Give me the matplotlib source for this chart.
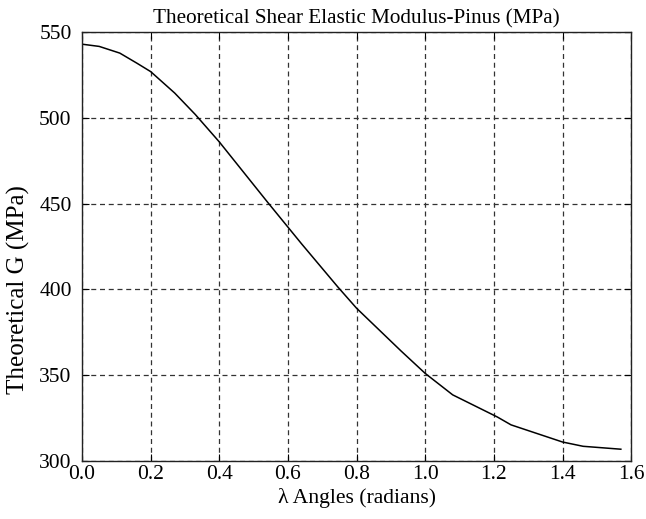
import matplotlib
matplotlib.use("Agg")
import matplotlib.pyplot as plt

# Values
angles = [0.00, 0.05, 0.11, 0.16, 0.20, 0.27, 0.33, 0.40, 0.48, 0.54, 0.64,
          0.745, 0.80, 0.93, 1.00, 1.08, 1.21, 1.25, 1.40, 1.46, 1.57]
shear_g = [543.0, 541.7, 537.8, 531.9, 527.0, 514.5, 502.0, 486.0, 466.0, 451.0, 426.5,
           401.5, 389.0, 364.0, 351.0, 338.5, 325.6, 321.0, 311.0, 308.5, 306.8]
x_ticks = [0.0, 0.2, 0.4, 0.6, 0.8, 1.0, 1.2, 1.4, 1.6]
y_ticks = [300, 350, 400, 450, 500, 550]

plt.rcParams["font.family"] = ["Liberation Serif", "DejaVu Serif"]

fig = plt.figure(figsize=(6.46, 5.19), dpi=100)
ax = fig.add_axes([0.127, 0.112, 0.850, 0.826])

ax.plot(angles, shear_g, color="black", linewidth=1.1)

ax.set_xlim(0, 1.6)
ax.set_ylim(300, 550)
ax.set_xticks(x_ticks)
ax.set_xticklabels([f"{t:.1f}" for t in x_ticks])
ax.set_yticks(y_ticks)

ax.grid(True, color="#333333", linestyle=(0, (4, 3)), linewidth=0.9)
ax.tick_params(direction="in", top=True, right=True, length=5, labelsize=15.5)
ax.tick_params(axis="x", pad=3)
ax.tick_params(axis="y", pad=7.5)
for spine in ax.spines.values():
    spine.set_linewidth(1.0)
    spine.set_color("#222222")

ax.set_title("Theoretical Shear Elastic Modulus-Pinus (MPa)", fontsize=15.2, pad=6)
ax.set_xlabel("λ Angles (radians)", fontsize=15.6, labelpad=3)
ax.set_ylabel("Theoretical G (MPa)", fontsize=18)
ax.yaxis.set_label_coords(-0.094, 0.40)

fig.savefig("out.png", dpi=100)
